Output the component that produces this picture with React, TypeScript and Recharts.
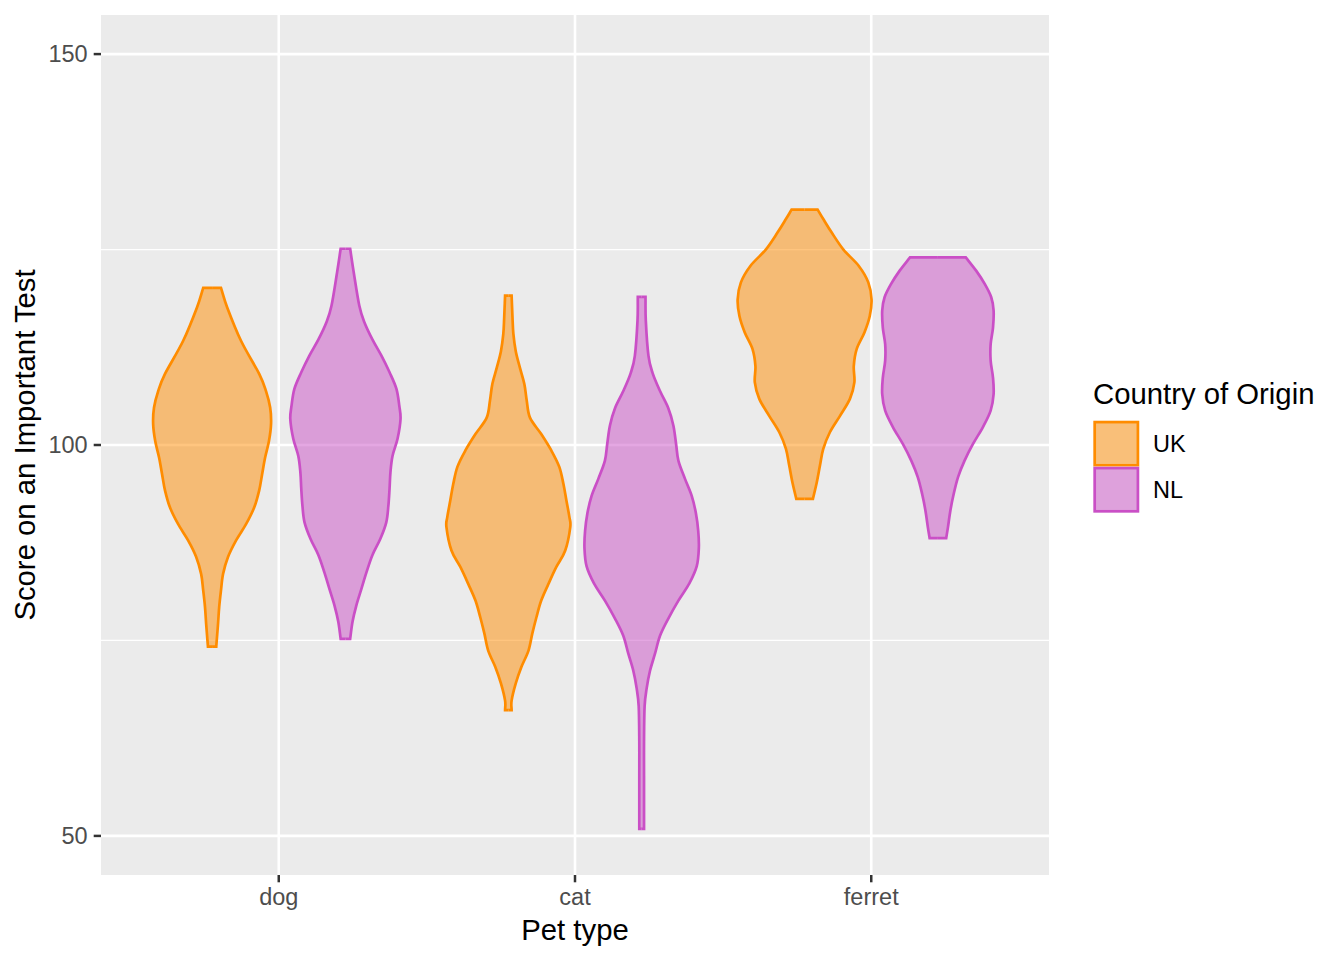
import React from 'react';
import { ComposedChart, Area, XAxis, YAxis, CartesianGrid } from 'recharts';

const categories = ['dog', 'cat', 'ferret'];
const countries = ['UK', 'NL'];
const yTicks = [50, 100, 150];
const yMinorTicks = [75, 125];

// score values (top to bottom) and violin half-widths (in category units)
const dogUK_y = [120.1, 117.6, 113.3, 109.1, 106.9, 104.8, 102.7, 100.5, 98.4, 96.3, 94.2, 92.0, 89.9, 87.8, 85.7, 83.5, 81.4, 79.3, 77.1, 74.2];
const dogUK_w = [0.030, 0.051, 0.098, 0.159, 0.182, 0.196, 0.199, 0.192, 0.179, 0.169, 0.159, 0.142, 0.115, 0.081, 0.054, 0.037, 0.030, 0.024, 0.020, 0.014];

const dogNL_y = [125.1, 122.1, 117.8, 115.7, 113.5, 111.4, 109.3, 107.2, 105.0, 103.3, 100.8, 98.6, 96.5, 94.4, 92.2, 90.1, 88.0, 85.9, 83.7, 81.6, 79.5, 77.4, 75.2];
const dogNL_w = [0.016, 0.028, 0.047, 0.064, 0.091, 0.122, 0.149, 0.172, 0.182, 0.186, 0.176, 0.159, 0.152, 0.149, 0.145, 0.138, 0.118, 0.091, 0.071, 0.054, 0.037, 0.024, 0.016];

const catUK_y = [119.1, 116.3, 114.2, 112.0, 109.9, 107.8, 105.7, 103.5, 101.4, 99.3, 97.2, 95.0, 92.9, 90.8, 89.5, 86.5, 84.4, 82.2, 80.1, 78.0, 75.9, 73.7, 71.6, 69.5, 67.3, 66.1];
const catUK_w = [0.011, 0.014, 0.017, 0.025, 0.039, 0.054, 0.062, 0.073, 0.111, 0.145, 0.172, 0.186, 0.196, 0.206, 0.209, 0.192, 0.162, 0.135, 0.111, 0.095, 0.081, 0.068, 0.044, 0.025, 0.011, 0.011];

const catNL_y = [118.95, 115.9, 111.4, 109.2, 106.9, 104.7, 102.5, 100.2, 98.0, 95.7, 93.5, 91.3, 89.0, 86.8, 84.5, 82.3, 80.1, 77.8, 75.6, 73.3, 71.1, 68.9, 66.6, 62.1, 57.7, 50.9];
const catNL_w = [0.013, 0.014, 0.023, 0.037, 0.062, 0.090, 0.107, 0.116, 0.124, 0.146, 0.169, 0.183, 0.191, 0.193, 0.186, 0.161, 0.124, 0.090, 0.062, 0.045, 0.028, 0.017, 0.010, 0.008, 0.008, 0.008];

const ferretUK_y = [130.1, 128.9, 127.2, 125.0, 122.9, 120.8, 118.6, 116.5, 114.4, 112.3, 110.1, 108.0, 105.9, 103.7, 101.6, 99.5, 97.4, 95.2, 93.1];
const ferretUK_w = [0.044, 0.063, 0.091, 0.131, 0.183, 0.215, 0.226, 0.220, 0.202, 0.176, 0.166, 0.168, 0.153, 0.119, 0.085, 0.063, 0.052, 0.041, 0.028];

const ferretNL_y = [124.0, 122.3, 120.6, 118.9, 117.2, 115.0, 112.9, 110.8, 108.6, 106.5, 104.4, 102.3, 100.1, 98.0, 95.9, 93.7, 91.6, 89.5, 88.1];
const ferretNL_w = [0.094, 0.129, 0.158, 0.180, 0.188, 0.186, 0.178, 0.178, 0.186, 0.188, 0.178, 0.152, 0.118, 0.090, 0.068, 0.053, 0.042, 0.034, 0.028];

const COLORS: Record<string, string> = { UK: '#FF8C00', NL: '#CA4FC6' };
const DODGE = 0.225;
const FONT = '"Liberation Sans", Arial, Helvetica, sans-serif';

type Violin = { key: string; cat: number; country: string; y: number[]; w: number[] };

const violins: Violin[] = [
  { key: 'dogUK', cat: 0, country: 'UK', y: dogUK_y, w: dogUK_w },
  { key: 'dogNL', cat: 0, country: 'NL', y: dogNL_y, w: dogNL_w },
  { key: 'catUK', cat: 1, country: 'UK', y: catUK_y, w: catUK_w },
  { key: 'catNL', cat: 1, country: 'NL', y: catNL_y, w: catNL_w },
  { key: 'ferretUK', cat: 2, country: 'UK', y: ferretUK_y, w: ferretUK_w },
  { key: 'ferretNL', cat: 2, country: 'NL', y: ferretNL_y, w: ferretNL_w },
];

function buildRows(v: Violin) {
  const c = v.cat + 1 + (v.country === 'UK' ? -DODGE : DODGE);
  const n = v.y.length;
  const rows = v.y.map((yy, i) => ({ y: yy, r: [c - v.w[i], c + v.w[i]] }));
  return [{ y: v.y[0], r: [c, c] }, ...rows, { y: v.y[n - 1], r: [c, c] }];
}

// smooth curve through points (Catmull-Rom), with straight flat caps
function violinCurve(context: any) {
  let pts: number[][] = [];
  let line = NaN;
  return {
    areaStart() { line = 0; },
    areaEnd() { line = NaN; },
    lineStart() { pts = []; },
    lineEnd() {
      const n = pts.length;
      if (n > 0) {
        if (line) context.lineTo(pts[0][0], pts[0][1]);
        else context.moveTo(pts[0][0], pts[0][1]);
        const flat = (a: number[], b: number[]) => Math.abs(a[1] - b[1]) < 1e-6;
        const tan = (i: number) => {
          const p = pts[i];
          const prev = i > 0 && !flat(pts[i - 1], p) ? pts[i - 1] : null;
          const next = i < n - 1 && !flat(pts[i + 1], p) ? pts[i + 1] : null;
          if (prev && next) return [(next[0] - prev[0]) / 2, (next[1] - prev[1]) / 2];
          if (next) return [next[0] - p[0], next[1] - p[1]];
          if (prev) return [p[0] - prev[0], p[1] - prev[1]];
          return [0, 0];
        };
        for (let i = 0; i < n - 1; i++) {
          const p = pts[i];
          const q = pts[i + 1];
          if (flat(p, q)) {
            context.lineTo(q[0], q[1]);
            continue;
          }
          const tp = tan(i);
          const tq = tan(i + 1);
          context.bezierCurveTo(p[0] + tp[0] / 3, p[1] + tp[1] / 3, q[0] - tq[0] / 3, q[1] - tq[1] / 3, q[0], q[1]);
        }
      }
      if (line || (line !== 0 && n === 1)) context.closePath();
      line = 1 - line;
    },
    point(x: number, y: number) { pts.push([+x, +y]); },
  };
}

export default function App() {
  return (
    <div style={{ position: 'absolute', left: 0, top: 0, width: 1344, height: 960, background: '#FFFFFF', fontFamily: FONT }}>
      <ComposedChart
        width={1344}
        height={960}
        layout="vertical"
        margin={{ top: 15, right: 295, bottom: 0, left: 0 }}
        style={{ fontFamily: FONT }}
      >
        <CartesianGrid
          fill="#EBEBEB"
          fillOpacity={1}
          stroke="#FFFFFF"
          strokeWidth={2.6}
          horizontalValues={yTicks}
          verticalValues={[1, 2, 3]}
        />
        <CartesianGrid
          stroke="#FFFFFF"
          strokeWidth={1.3}
          vertical={false}
          horizontalValues={yMinorTicks}
        />
        <XAxis
          type="number"
          domain={[0.4, 3.6]}
          allowDataOverflow
          ticks={[1, 2, 3]}
          interval={0}
          tickFormatter={(v: number) => categories[v - 1]}
          height={85}
          axisLine={false}
          tickSize={7.3}
          tickMargin={6}
          tickLine={{ stroke: '#333333', strokeWidth: 2.5 }}
          tick={{ fill: '#4D4D4D', fontSize: 23.5, fontFamily: FONT }}
        />
        <YAxis
          type="number"
          dataKey="y"
          domain={[45, 155]}
          reversed
          allowDataOverflow
          ticks={yTicks}
          interval={0}
          width={101}
          axisLine={false}
          tickSize={7.3}
          tickMargin={6}
          tickLine={{ stroke: '#333333', strokeWidth: 2.5 }}
          tick={{ fill: '#4D4D4D', fontSize: 23.5, fontFamily: FONT }}
        />
        {violins.map((v) => (
          <Area
            key={v.key}
            data={buildRows(v)}
            dataKey="r"
            type={violinCurve as any}
            stroke={COLORS[v.country]}
            strokeWidth={2.7}
            fill={COLORS[v.country]}
            fillOpacity={0.5}
            dot={false}
            activeDot={false}
            isAnimationActive={false}
          />
        ))}
      </ComposedChart>
      <svg
        width={1344}
        height={960}
        style={{ position: 'absolute', left: 0, top: 0, pointerEvents: 'none', fontFamily: FONT }}
      >
        <text x={575} y={940} textAnchor="middle" fontSize={29.3} fill="#000000">Pet type</text>
        <text transform="translate(35,445) rotate(-90)" x={0} y={0} textAnchor="middle" fontSize={29.3} fill="#000000">
          Score on an Important Test
        </text>
        <text x={1093} y={403.5} fontSize={29.3} fill="#000000">Country of Origin</text>
        {countries.map((c, i) => (
          <g key={c}>
            <rect x={1093.3} y={420.7 + i * 46} width={46} height={46} fill="#F2F2F2" />
            <rect
              x={1094.7}
              y={422.1 + i * 46}
              width={43.2}
              height={43.2}
              fill={COLORS[c]}
              fillOpacity={0.5}
              stroke={COLORS[c]}
              strokeWidth={2.7}
            />
            <text x={1153} y={443.7 + i * 46} dominantBaseline="central" fontSize={23.5} fill="#000000">{c}</text>
          </g>
        ))}
      </svg>
    </div>
  );
}
